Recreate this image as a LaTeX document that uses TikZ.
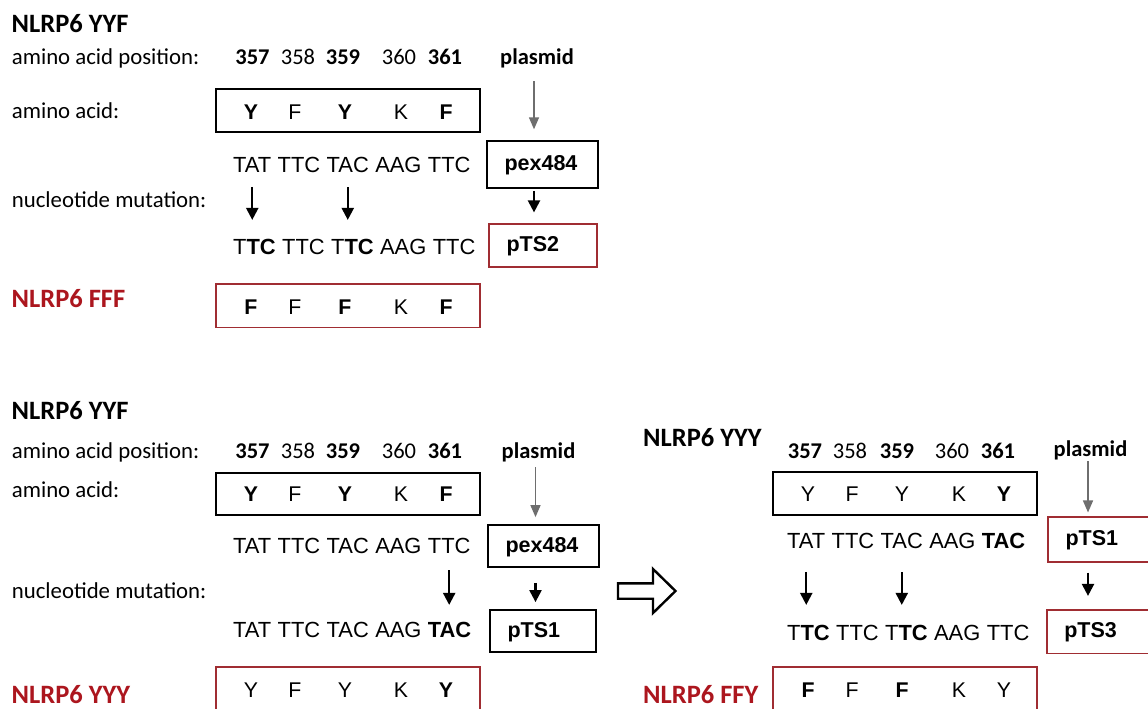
\documentclass[tikz,border=0pt]{standalone}
\usepackage{fontspec}
\setmainfont{Carlito}
\newfontfamily\arialf{Liberation Sans}
\usetikzlibrary{arrows.meta}
\definecolor{nred}{RGB}{172,22,30}
\definecolor{bred}{RGB}{160,45,50}
\definecolor{garr}{RGB}{110,110,110}
\tikzset{
 ttl/.style={font=\fontsize{26.5}{30}\selectfont\bfseries, anchor=base west, inner sep=0pt},
 lab/.style={font=\fontsize{22.8}{26}\selectfont, anchor=base west, inner sep=0pt},
 num/.style={font=\fontsize{22.5}{26}\selectfont, anchor=base, inner sep=0pt},
 bnum/.style={font=\fontsize{22.5}{26}\selectfont\bfseries, anchor=base, inner sep=0pt},
 seq/.style={font=\arialf\fontsize{21.9}{25}\selectfont, anchor=base west, inner sep=0pt},
 aa/.style={font=\arialf\fontsize{21.3}{25}\selectfont, anchor=base, inner sep=0pt},
 aab/.style={font=\arialf\bfseries\fontsize{21.3}{25}\selectfont, anchor=base, inner sep=0pt},
 abox/.style={draw=black, line width=1.8pt, minimum width=264pt, inner sep=0pt},
 rbox/.style={draw=bred, line width=1.7pt, minimum width=264pt, inner sep=0pt},
 pbox/.style={draw=black, line width=1.8pt, font=\arialf\bfseries\fontsize{21.5}{25}\selectfont, align=left, inner xsep=17.5pt, inner ysep=0pt, text height=12pt, text depth=0pt},
 prbox/.style={pbox, draw=bred, line width=1.7pt},
 garrow/.style={draw=garr, line width=1.4pt, -{Triangle[width=10pt,length=12pt]}},
 barrow/.style={draw=black, line width=2.2pt, -{Triangle[width=12pt,length=12pt]}},
 hollow/.style={draw=black, line width=2.4pt, fill=white, line join=miter}
}
\newcommand\codons[8]{%
 \node[seq] (#1a) at (#2,#3) {#4};
 \node[seq] (#1b) at ([xshift=6pt]#1a.base east) {#5};
 \node[seq] (#1c) at ([xshift=6pt]#1b.base east) {#6};
 \node[seq] (#1d) at ([xshift=6pt]#1c.base east) {#7};
 \node[seq] (#1e) at ([xshift=6pt]#1d.base east) {#8};
}
\begin{document}
\begin{tikzpicture}[x=1pt,y=-1pt]
\useasboundingbox[fill=white] (0,0) rectangle (1148,709);

% ---------------- top panel ----------------
\node[ttl] (ti1) at (11.5,32.3) {NLRP6 YYF};
\node[lab] (pos1) at (11.7,65) {amino acid position:};
\node[bnum] (na1) at (252.5,65) {357};
\node[num]  (nb1) at (298,65) {358};
\node[bnum] (nc1) at (343,65) {359};
\node[num]  (nd1) at (399,65) {360};
\node[bnum] (ne1) at (445,65) {361};
\node[bnum] (pl1) at (537,65) {plasmid};
\node[lab] (aal1) at (11.7,118.3) {amino acid:};
\node[abox, minimum height=42.4pt] (box1) at (348,110.5) {};
\node[aab] (la1) at (251,119.3) {Y};
\node[aa]  (lb1) at (295,119.3) {F};
\node[aab] (lc1) at (345,119.3) {Y};
\node[aa]  (ld1) at (401,119.3) {K};
\node[aab] (le1) at (446,119.3) {F};
\codons{s1}{233}{172.7}{TAT}{TTC}{TAC}{AAG}{TTC}
\node[pbox, minimum width=111pt, minimum height=47pt, text width=76pt] (pex1) at (542.5,164.7) {pex484};
\node[lab] (nuc1) at (11.7,207) {nucleotide mutation:};
\codons{m1}{233}{254}{T\textbf{TC}}{TTC}{T\textbf{TC}}{AAG}{TTC}
\node[prbox, minimum width=108pt, minimum height=42.7pt, text width=73pt] (pts2) at (543,245.3) {pTS2};
\node[ttl, text=nred] (ti2) at (11.5,307) {NLRP6 FFF};
\node[rbox, minimum height=43.3pt] (box2) at (348,305.7) {};
\node[aab] (fa1) at (251,314) {F};
\node[aa]  (fb1) at (295,314) {F};
\node[aab] (fc1) at (345,314) {F};
\node[aa]  (fd1) at (401,314) {K};
\node[aab] (fe1) at (446,314) {F};

\draw[garrow, shorten <=12.7pt, shorten >=11pt] ([xshift=-3pt]pl1.south) -- ([xshift=-3pt]pl1.south |- pex1.north);
\draw[barrow, shorten <=1.7pt, shorten >=10.7pt] ([xshift=-3pt]pl1.south |- pex1.south) -- ([xshift=-3pt]pl1.south |- pts2.north);
\draw[barrow, shorten <=14pt, shorten >=18.6pt] (s1a.south) -- (m1a.north -| s1a.south);
\draw[barrow, shorten <=14pt, shorten >=18.6pt] (s1c.south) -- (m1c.north -| s1c.south);

% ---------------- bottom-left panel ----------------
\node[ttl] (ti3) at (11.5,419) {NLRP6 YYF};
\node[lab] (pos2) at (11.7,458) {amino acid position:};
\node[bnum] (na2) at (252.5,458) {357};
\node[num]  (nb2) at (298,458) {358};
\node[bnum] (nc2) at (343,458) {359};
\node[num]  (nd2) at (399,458) {360};
\node[bnum] (ne2) at (445,458) {361};
\node[bnum] (pl2) at (538.5,458) {plasmid};
\node[lab] (aal2) at (11.7,497) {amino acid:};
\node[abox, minimum height=42.3pt] (box3) at (348,493.8) {};
\node[aab] (la2) at (251,501.7) {Y};
\node[aa]  (lb2) at (295,501.7) {F};
\node[aab] (lc2) at (345,501.7) {Y};
\node[aa]  (ld2) at (401,501.7) {K};
\node[aab] (le2) at (446,501.7) {F};
\codons{s2}{233}{553}{TAT}{TTC}{TAC}{AAG}{TTC}
\node[pbox, minimum width=111pt, minimum height=42pt, text width=76pt] (pex2) at (543.5,546) {pex484};
\node[lab] (nuc2) at (11.7,598) {nucleotide mutation:};
\codons{m2}{233}{637}{TAT}{TTC}{TAC}{AAG}{\textbf{TAC}}
\node[pbox, minimum width=106pt, minimum height=42pt, text width=71pt] (pts1) at (543,631) {pTS1};
\node[ttl, text=nred] (ti4) at (11.5,703) {NLRP6 YYY};
\node[rbox, minimum height=48pt] (box4) at (348,691) {};
\node[aa]  (ya2) at (251,697) {Y};
\node[aa]  (yb2) at (295,697) {F};
\node[aa]  (yc2) at (345,697) {Y};
\node[aa]  (yd2) at (401,697) {K};
\node[aab] (ye2) at (446,697) {Y};

\draw[garrow, shorten <=5.7pt, shorten >=7pt] ([xshift=-3pt]pl2.south) -- ([xshift=-3pt]pl2.south |- pex2.north);
\draw[barrow, shorten <=15pt, shorten >=7pt] ([xshift=-3pt]pl2.south |- pex2.south) -- ([xshift=-3pt]pl2.south |- pts1.north);
\draw[barrow, shorten <=17pt, shorten >=16.6pt] (s2e.south) -- (m2e.north -| s2e.south);

% ---------------- hollow arrow ----------------
\draw[hollow] (618,583.3) -- (653,583.3) -- (653,569) -- (675.5,591) -- (653,613) -- (653,598.7) -- (618,598.7) -- cycle;

% ---------------- right panel ----------------
\node[ttl] (ti5) at (643,446.7) {NLRP6 YYY};
\node[bnum] (na3) at (805,458) {357};
\node[num]  (nb3) at (850,458) {358};
\node[bnum] (nc3) at (897,458) {359};
\node[num]  (nd3) at (952,458) {360};
\node[bnum] (ne3) at (998,458) {361};
\node[bnum] (pl3) at (1090.5,456) {plasmid};
\node[abox, minimum height=43.3pt] (box5) at (905,493.4) {};
\node[aa]  (la3) at (808,501.7) {Y};
\node[aa]  (lb3) at (852,501.7) {F};
\node[aa]  (lc3) at (902,501.7) {Y};
\node[aa]  (ld3) at (959,501.7) {K};
\node[aab] (le3) at (1004,501.7) {Y};
\codons{s3}{787}{548}{TAT}{TTC}{TAC}{AAG}{\textbf{TAC}}
\node[prbox, minimum width=108pt, minimum height=45pt, text width=73pt] (pts1r) at (1102,539.2) {pTS1};
\codons{m3}{787}{640}{T\textbf{TC}}{TTC}{T\textbf{TC}}{AAG}{TTC}
\node[prbox, minimum width=109pt, minimum height=43.3pt, text width=74pt] (pts3) at (1101.3,631.7) {pTS3};
\node[ttl, text=nred] (ti6) at (643,703) {NLRP6 FFY};
\node[rbox, minimum height=48pt] (box6) at (905,690.7) {};
\node[aab] (fa3) at (808,697) {F};
\node[aa]  (fb3) at (852,697) {F};
\node[aab] (fc3) at (902,697) {F};
\node[aa]  (fd3) at (959,697) {K};
\node[aa]  (fe3) at (1004,697) {Y};

\draw[garrow, shorten <=1.4pt, shorten >=3.4pt] ([xshift=-2.5pt]pl3.south) -- ([xshift=-2.5pt]pl3.south |- pts1r.north);
\draw[barrow, shorten <=10pt, shorten >=13.3pt] ([xshift=-2.5pt]pl3.south |- pts1r.south) -- ([xshift=-2.5pt]pl3.south |- pts3.north);
\draw[barrow, shorten <=23.7pt, shorten >=19.6pt] (s3a.south) -- (m3a.north -| s3a.south);
\draw[barrow, shorten <=23.7pt, shorten >=19.6pt] (s3c.south) -- (m3c.north -| s3c.south);
\end{tikzpicture}
\end{document}
